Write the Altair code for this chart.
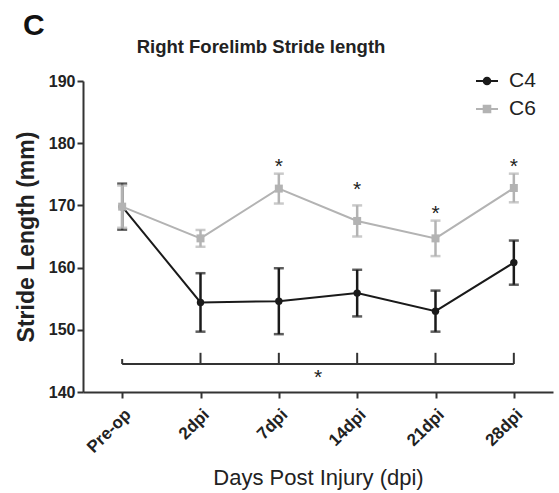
import json

import altair as alt
import pandas as pd

# ---- data -------------------------------------------------------------
timepoints = ["Pre-op", "2dpi", "7dpi", "14dpi", "21dpi", "28dpi"]
groups = ["C4", "C6"]
group_colors = ["#1a1a1a", "#b3b3b3"]

c4_mean = [169.8, 154.4, 154.6, 155.9, 153.0, 160.8]
c4_sem = [3.7, 4.7, 5.3, 3.75, 3.3, 3.55]
c6_mean = [169.8, 164.7, 172.7, 167.5, 164.7, 172.8]
c6_sem = [3.4, 1.35, 2.4, 2.5, 2.85, 2.3]

# C4 vs C6 significance at single timepoints
star_idx = [2, 3, 4, 5]
star_y = [177.0, 173.3, 169.4, 177.0]

# bracket spanning all timepoints (change over time)
bracket_y = 144.5
bracket_tick_top = [145.3, 146.3, 146.3, 146.3, 146.3, 146.3]
bracket_star_x = [2.5]
bracket_star_y = [143.05]

y_ticks = [140, 150, 160, 170, 180, 190]

chart_title = "Right Forelimb Stride length"
panel_letter = "C"

FONT = "Liberation Sans"

rows = []
for g, means, sems in [("C4", c4_mean, c4_sem), ("C6", c6_mean, c6_sem)]:
    for i, (m, s) in enumerate(zip(means, sems)):
        rows.append({"idx": i, "time": timepoints[i], "group": g,
                     "mean": m, "lo": m - s, "hi": m + s})
df = pd.DataFrame(rows)

caps = pd.concat([
    df[["idx", "group"]].assign(v=df["lo"]),
    df[["idx", "group"]].assign(v=df["hi"]),
])

stars = pd.DataFrame({"x": star_idx, "y": star_y, "t": "*"})
bracket_ticks = pd.DataFrame({"x": list(range(len(timepoints))),
                              "y": bracket_y, "y2": bracket_tick_top})
bracket_line = pd.DataFrame({"x": [0], "x2": [len(timepoints) - 1],
                             "y": [bracket_y]})
bracket_star = pd.DataFrame({"x": bracket_star_x, "y": bracket_star_y, "t": "*"})

# ---- shared encodings ---------------------------------------------------
label_expr = json.dumps(timepoints) + "[datum.value]"
x_scale = alt.Scale(domain=[-0.5, len(timepoints) - 0.5], nice=False, zero=False)
x_axis = alt.Axis(values=list(range(len(timepoints))), labelExpr=label_expr)
y_scale = alt.Scale(domain=[140, 190], nice=False, zero=False)
y_axis = alt.Axis(values=y_ticks)
X_TITLE = "Days Post Injury (dpi)"
Y_TITLE = "Stride Length (mm)"


def X(field):
    return alt.X(field, type="quantitative", scale=x_scale, axis=x_axis, title=X_TITLE)


def Y(field):
    return alt.Y(field, type="quantitative", scale=y_scale, axis=y_axis, title=Y_TITLE)


color_scale = alt.Scale(domain=groups, range=group_colors)

base = alt.Chart(df)
caps_base = alt.Chart(caps)


def series_layers(g, color, point_mark):
    sel = alt.datum.group == g
    line = base.transform_filter(sel).mark_line(color=color, strokeWidth=2).encode(
        x=X("idx"), y=Y("mean"))
    bars = base.transform_filter(sel).mark_rule(color=color, strokeWidth=2.5).encode(
        x=X("idx"), y=Y("lo"), y2="hi")
    cap = caps_base.transform_filter(sel).mark_tick(
        color=color, orient="horizontal", size=10, thickness=2.5).encode(
        x=X("idx"), y=Y("v"))
    pts = point_mark(base.transform_filter(sel)).encode(x=X("idx"), y=Y("mean"))
    return [line, bars, cap, pts]


c4_layers = series_layers(
    "C4", group_colors[0],
    lambda c: c.mark_circle(color=group_colors[0], size=55, opacity=1))
c6_layers = series_layers(
    "C6", group_colors[1],
    lambda c: c.mark_square(color=group_colors[1], size=64, opacity=1))


# legend glyphs: a short line with the series marker on it (stroke-only paths,
# the marker is built from nested outlines so it reads as solid)
def rings(r_list):
    return "".join(
        f"M{-r},0A{r},{r},0,1,1,{r},0A{r},{r},0,1,1,{-r},0" for r in r_list)


def boxes(r_list):
    return "".join(
        f"M{-r},{-r}L{r},{-r}L{r},{r}L{-r},{r}Z" for r in r_list)


c4_glyph = "M-1,0L1,0" + rings([0.3, 0.18, 0.06])
c6_glyph = "M-1,0L1,0" + boxes([0.3, 0.18, 0.06])

legend = alt.Legend(
    title=None, orient="none", legendX=392, legendY=-12,
    labelFont=FONT, labelFontSize=21, labelColor="#222", labelOffset=10,
    symbolSize=484, symbolStrokeWidth=2, symbolOpacity=1, rowPadding=6,
    padding=0,
)
legend_layer = base.mark_point(filled=False, opacity=0).encode(
    x=X("idx"), y=Y("mean"),
    color=alt.Color("group:N", scale=color_scale, legend=legend),
    shape=alt.Shape("group:N", scale=alt.Scale(domain=groups,
                                               range=[c4_glyph, c6_glyph]),
                    legend=legend),
)

star_layer = alt.Chart(stars).mark_text(
    font=FONT, fontSize=21, color="#222", baseline="alphabetic", dy=11).encode(
    x=X("x"), y=Y("y"), text="t:N")

bracket_h = alt.Chart(bracket_line).mark_rule(color="#333", strokeWidth=2).encode(
    x=X("x"), x2="x2", y=Y("y"))
bracket_v = alt.Chart(bracket_ticks).mark_rule(color="#333", strokeWidth=2).encode(
    x=X("x"), y=Y("y"), y2="y2")
bracket_txt = alt.Chart(bracket_star).mark_text(
    font=FONT, fontSize=21, color="#222", baseline="alphabetic", dy=11).encode(
    x=X("x"), y=Y("y"), text="t:N")

# heading and panel letter, placed in the margin above the plot
heading = alt.Chart(pd.DataFrame({"t": [chart_title]})).mark_text(
    font=FONT, fontSize=18.5, fontWeight="bold", color="#222",
    align="center", baseline="alphabetic").encode(
    x=alt.value(178), y=alt.value(-28), text="t:N")
panel_label = alt.Chart(pd.DataFrame({"t": [panel_letter]})).mark_text(
    font=FONT, fontSize=30, fontWeight="bold", color="#111",
    align="left", baseline="alphabetic").encode(
    x=alt.value(-60), y=alt.value(-46), text="t:N")

chart = alt.layer(
    bracket_h, bracket_v, bracket_txt,
    *c4_layers, *c6_layers, star_layer, legend_layer, heading, panel_label,
).properties(
    width=470, height=311,
    autosize=alt.AutoSizeParams(type="none"),
    padding={"left": 83, "top": 81, "right": 6, "bottom": 101},
).configure_view(
    stroke=None
).configure_axis(
    grid=False, domainColor="#333", domainWidth=2, tickColor="#333",
    tickWidth=2, tickSize=6, labelFont=FONT, labelFontSize=16,
    labelFontWeight="bold", labelColor="#222", titleFont=FONT,
    titleColor="#222",
).configure_axisY(
    labelPadding=2, titleFontSize=23, titleFontWeight="bold", titlePadding=10,
).configure_axisX(
    labelAngle=-45, labelAlign="right", labelBaseline="top", labelPadding=8,
    labelOffset=0, labelFontSize=17, titleFontSize=22, titleFontWeight="normal",
    titlePadding=12,
)

chart.save("out.html", embed_options={"renderer": "svg", "actions": False})
